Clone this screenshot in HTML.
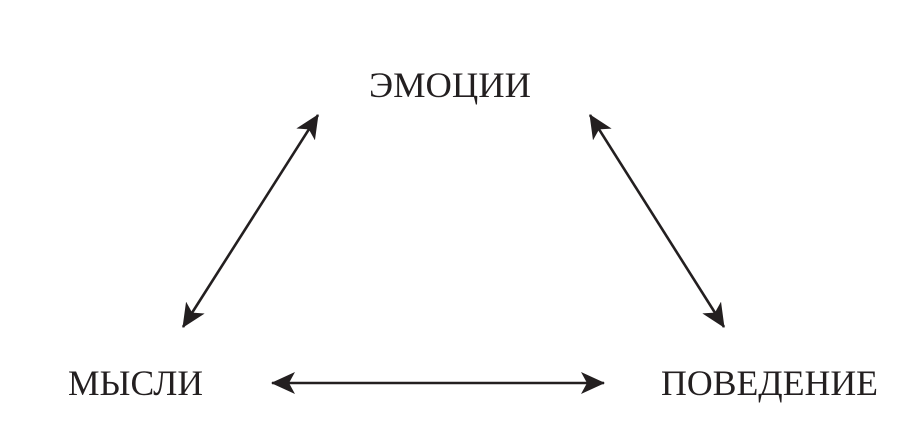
<!DOCTYPE html>
<html><head><meta charset="utf-8"><style>
html,body{margin:0;padding:0;background:#fff}
svg{display:block}
text{font-family:"Liberation Serif",serif;fill:#231f20}
</style></head><body>
<svg width="924" height="433" viewBox="0 0 924 433">
<defs>
<marker id="a" viewBox="0 0 24 22" refX="23" refY="11" markerWidth="24" markerHeight="22" markerUnits="userSpaceOnUse" orient="auto-start-reverse">
<path d="M0,0 L24,11 L0,22 L6,11 Z" fill="#231f20"/>
</marker>
</defs>
<g stroke="#231f20" stroke-width="2.6" fill="none">
<line x1="183" y1="327" x2="318" y2="115" marker-start="url(#a)" marker-end="url(#a)"/>
<line x1="590" y1="115" x2="724" y2="327" marker-start="url(#a)" marker-end="url(#a)"/>
<line x1="272" y1="383" x2="604" y2="383" marker-start="url(#a)" marker-end="url(#a)"/>
</g>
<text x="369" y="97" font-size="36" textLength="162" lengthAdjust="spacingAndGlyphs">ЭМОЦИИ</text>
<text x="68" y="395" font-size="36" textLength="135" lengthAdjust="spacingAndGlyphs">МЫСЛИ</text>
<text x="661" y="395" font-size="36" textLength="217" lengthAdjust="spacingAndGlyphs">ПОВЕДЕНИЕ</text>
</svg>
</body></html>
